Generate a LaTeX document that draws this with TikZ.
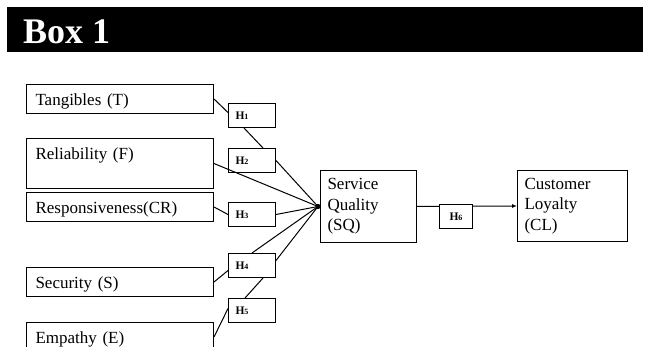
\documentclass[tikz,border=0pt]{standalone}
\usepackage{fontspec}
\setmainfont{Liberation Serif}
\usepackage{tikz}
\usetikzlibrary{arrows.meta}
\usetikzlibrary{calc}
\newcommand{\hyplab}[1]{H{\fontsize{8}{8}\selectfont #1}}
\tikzset{
    factor/.style={draw, line width=1pt, rectangle, anchor=north west,
        minimum width=187pt, text width=169pt, align=left,
        inner xsep=9pt, inner ysep=6pt, text height=15pt, text depth=2pt,
        font=\fontsize{17}{20.5}\selectfont},
    construct/.style={draw, line width=1pt, rectangle, anchor=north west,
        align=left, inner xsep=7pt, minimum height=72pt,
        font=\fontsize{17}{20.5}\selectfont},
    hyp/.style={draw, line width=1pt, fill=white, rectangle, anchor=north west,
        minimum width=47pt, text width=33pt, align=left,
        inner xsep=7pt, inner ysep=7pt, text height=9pt, text depth=1pt,
        font=\fontsize{11.5}{12}\selectfont\bfseries},
    link/.style={line width=1pt}
}

\begin{document}
\begin{tikzpicture}[x=1pt, y=-1pt]
    \useasboundingbox (0,0) rectangle (650,347);
    % title bar
    \fill[black] (7,7) rectangle (643,52);
    \node[anchor=base west, inner sep=0pt, text=white,
          font=\fontsize{36}{36}\selectfont\bfseries] (title) at (23,44) {Box 1};

    % dimensions
    \node[factor] (T) at (26,84) {Tangibles (T)};
    \node[factor, text depth=23pt] (F) at (26,138) {Reliability (F)};
    \node[factor] (CR) at (26,192) {Responsiveness(CR)};
    \node[factor] (S) at (26,267) {Security (S)};
    \node[factor] (E) at (26,322) {Empathy (E)};

    % hypotheses
    \node[hyp] (H1) at (228,103) {\hyplab{1}};
    \node[hyp] (H2) at (228,148) {\hyplab{2}};
    \node[hyp] (H3) at (228,202) {\hyplab{3}};
    \node[hyp] (H4) at (228,253) {\hyplab{4}};
    \node[hyp] (H5) at (228,298) {\hyplab{5}};

    % constructs
    \node[construct, minimum width=96pt, text width=82pt] (SQ) at (320,170) {Service\\Quality\\(SQ)};
    \node[construct, minimum width=110pt, text width=96pt, minimum height=71pt] (CL) at (517,170) {Customer\\Loyalty\\(CL)};

    \coordinate (hub) at ($(SQ.west)+(-2,0)$);

    \draw[link] (T.east) -- ($(H1.west)+(0,-3)$);
    \draw[link] ($(H1.south)+(-8,0)$) -- ($(H2.north)+(11,0)$);
    \draw[link] (H2.east) -- (hub);
    \draw[link] (F.east) -- (hub);
    \draw[link] (CR.east) -- (H3.west);
    \draw[link] (H3.east) -- (hub);
    \draw[link] (H4.north) -- (hub);
    \draw[link] ($(H4.east)+(0,-5)$) -- (hub);
    \draw[link] (S.east) -- ($(H4.west)+(0,5)$);
    \draw[link] ($(H4.south)+(11,0)$) -- ($(H5.north)+(-7,0)$);
    \draw[link] (E.east) -- ($(H5.west)+(0,-2)$);
    \fill (hub) circle (2.6pt);

    % path to loyalty
    \draw[link, -{Latex[length=5pt, width=4pt]}] (SQ.east) -- (CL.west);
    \node[hyp, minimum width=33pt, text width=19pt, align=center] (H6) at (439,204) {\hyplab{6}};
\end{tikzpicture}
\end{document}
